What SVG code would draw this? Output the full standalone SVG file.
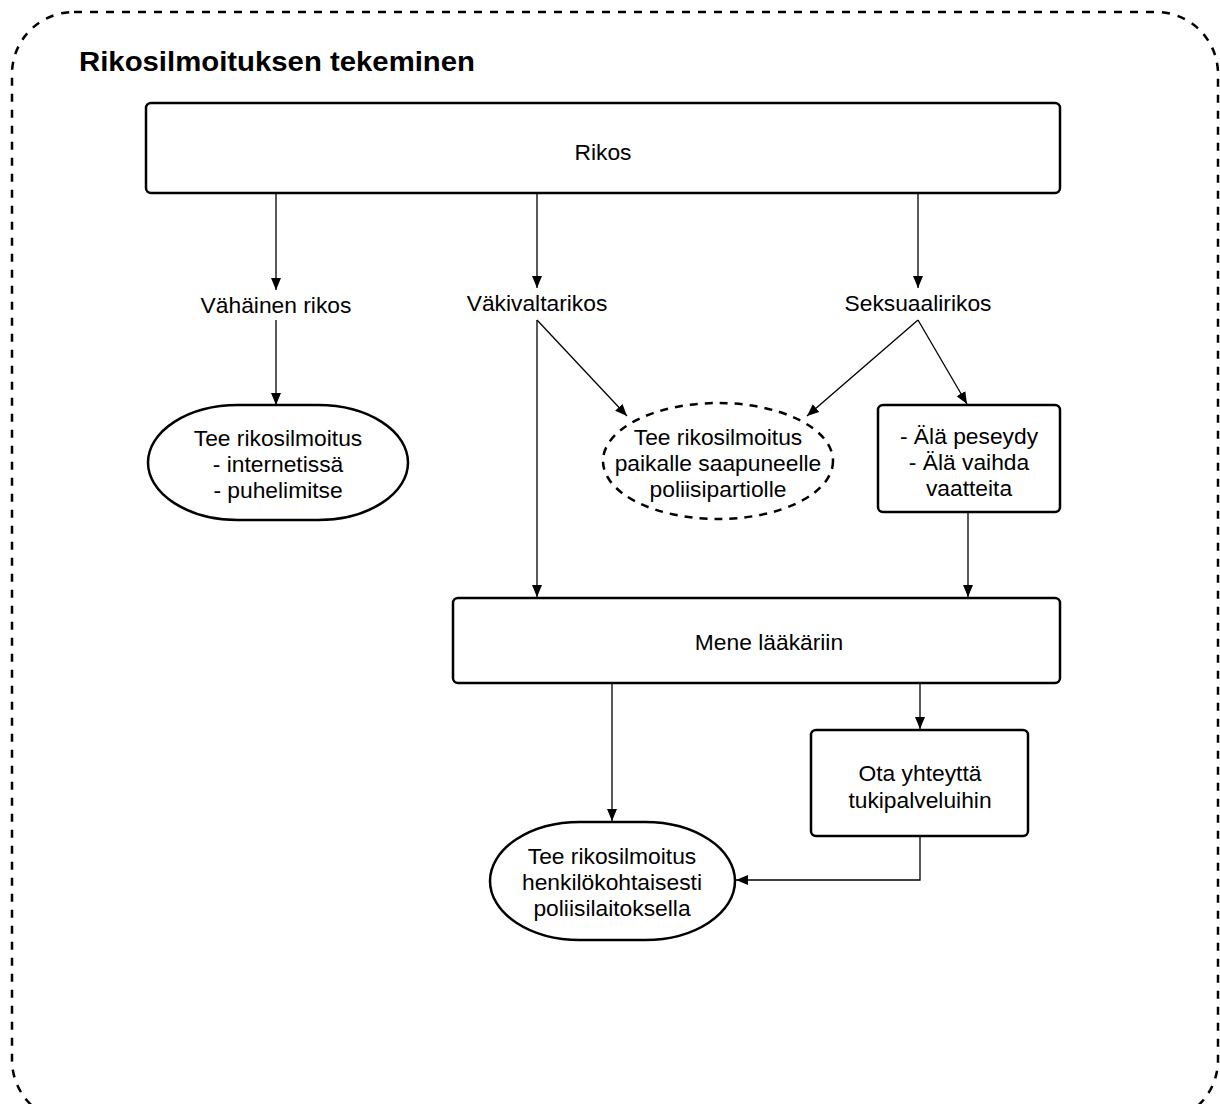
<svg xmlns="http://www.w3.org/2000/svg" width="1220" height="1104" viewBox="0 0 1220 1104">
<defs>
<marker id="arr" viewBox="0 0 12 12" refX="12" refY="6" markerWidth="12" markerHeight="12" markerUnits="userSpaceOnUse" orient="auto">
<path d="M0,1 L12,6 L0,11 Z" fill="#000"/>
</marker>
<style>
.t{font-family:"Liberation Sans",Arial,sans-serif;font-size:22.8px;fill:#000;text-anchor:middle}
.n{fill:#fff;stroke:#000;stroke-width:2.5}
.c{fill:none;stroke:#000;stroke-width:1.3;marker-end:url(#arr)}
</style>
</defs>
<rect width="1220" height="1104" fill="#fff"/>
<rect x="12" y="12" width="1206" height="1110" rx="62" ry="62" fill="none" stroke="#000" stroke-width="2.5" stroke-dasharray="8,8"/>
<text x="79" y="71" font-family="'Liberation Sans',Arial,sans-serif" font-weight="bold" font-size="27" textLength="396" lengthAdjust="spacingAndGlyphs">Rikosilmoituksen tekeminen</text>
<g id="connectors">
<path class="c" d="M276,193 V290"/>
<path class="c" d="M537,193 V288"/>
<path class="c" d="M918,193 V288"/>
<path class="c" d="M276,320 V405"/>
<path class="c" d="M537,320 V597"/>
<path class="c" d="M537,320 L627,416"/>
<path class="c" d="M918,320 L807,416"/>
<path class="c" d="M918,320 L967,404"/>
<path class="c" d="M968,512 V597"/>
<path class="c" d="M612,683 V821"/>
<path class="c" d="M920,683 V729"/>
<path class="c" d="M920,836 V880 H736"/>
</g>
<g id="rikos">
<rect class="n" x="146" y="103" width="914" height="90" rx="5"/>
<text class="t" x="603" y="160">Rikos</text>
</g>
<g id="vahainen">
<text class="t" x="276" y="313">Vähäinen rikos</text>
</g>
<g id="vakivalta">
<text class="t" x="537" y="311">Väkivaltarikos</text>
</g>
<g id="seksuaali">
<text class="t" x="918" y="311">Seksuaalirikos</text>
</g>
<g id="ilmoitus-netti">
<rect class="n" x="148" y="405" width="260" height="115" rx="90" ry="57.5"/>
<text class="t" x="278" y="446">Tee rikosilmoitus</text>
<text class="t" x="278" y="472">- internetissä</text>
<text class="t" x="278" y="498">- puhelimitse</text>
</g>
<g id="ilmoitus-partio">
<ellipse class="n" cx="718" cy="461" rx="115" ry="58" stroke-dasharray="8,7"/>
<text class="t" x="718" y="445">Tee rikosilmoitus</text>
<text class="t" x="718" y="471">paikalle saapuneelle</text>
<text class="t" x="718" y="497">poliisipartiolle</text>
</g>
<g id="ala">
<rect class="n" x="878" y="405" width="182" height="107" rx="5"/>
<text class="t" x="969" y="444">- Älä peseydy</text>
<text class="t" x="969" y="470">- Älä vaihda</text>
<text class="t" x="969" y="496">vaatteita</text>
</g>
<g id="laakari">
<rect class="n" x="453" y="598" width="607" height="85" rx="5"/>
<text class="t" x="769" y="650">Mene lääkäriin</text>
</g>
<g id="tuki">
<rect class="n" x="811" y="730" width="217" height="106" rx="5"/>
<text class="t" x="920" y="781">Ota yhteyttä</text>
<text class="t" x="920" y="808">tukipalveluihin</text>
</g>
<g id="ilmoitus-asema">
<rect class="n" x="490" y="822" width="245" height="118" rx="90" ry="59"/>
<text class="t" x="612" y="864">Tee rikosilmoitus</text>
<text class="t" x="612" y="890">henkilökohtaisesti</text>
<text class="t" x="612" y="916">poliisilaitoksella</text>
</g>
</svg>
